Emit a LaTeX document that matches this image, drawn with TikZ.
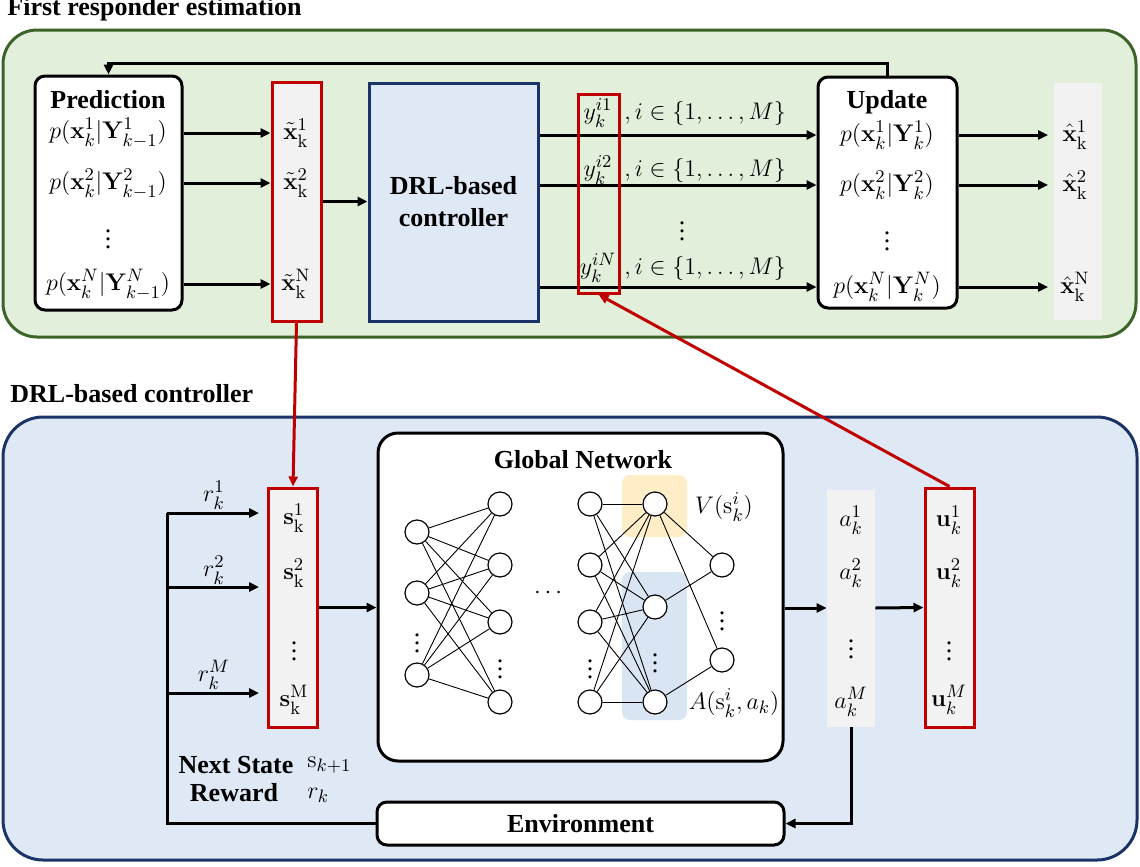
\documentclass[tikz,border=0pt]{standalone}
\usepackage[no-math]{fontspec}
\setmainfont{Liberation Serif}
\usepackage{amsmath,amssymb}
\usetikzlibrary{arrows.meta, positioning, calc}

\definecolor{grnframe}{HTML}{3C6428}
\definecolor{grnfill}{HTML}{E2EFDA}
\definecolor{navy}{HTML}{1B3468}
\definecolor{drlblue}{HTML}{DEE9F5}
\definecolor{drlred}{HTML}{C00000}
\definecolor{colgray}{HTML}{F2F2F2}
\definecolor{vfill}{HTML}{FEEDC6}
\definecolor{afill}{HTML}{D9E5F3}
\newcommand{\figfont}{\fontsize{13}{16}\selectfont}

\begin{document}
\begin{tikzpicture}[
    x=0.5pt, y=-0.5pt,
    every node/.style={font=\figfont, inner sep=1pt},
    bold/.style={font=\figfont\bfseries},
    blk/.style={draw, line width=1.5pt, rounded corners=5pt, fill=white},
    redcol/.style={draw=drlred, line width=1.5pt, fill=colgray, minimum width=24.5pt, minimum height=119.5pt},
    graycol/.style={fill=colgray, minimum width=24pt, minimum height=118.5pt},
    arr/.style={-{Triangle[length=5pt, width=4.5pt]}, line width=1.5pt},
    redarr/.style={arr, draw=drlred, fill=drlred},
    neuron/.style={circle, draw, line width=0.6pt, fill=white, minimum size=12pt, inner sep=0pt},
    lnk/.style={line width=0.45pt}
  ]
  \useasboundingbox (0,0) rectangle (1140,867);

  % first responder estimation
  \draw[draw=grnframe, fill=grnfill, line width=1.5pt, rounded corners=17pt] (3,30) rectangle (1136,337);
  \node[bold, anchor=base west] (ttl1) at (5,16) {First responder estimation};

  \node[blk, minimum width=73.5pt, minimum height=117pt] (pred) at (108.5,193) {};
  \node[bold] (predT) at (108,100) {Prediction};
  \node (p1) at (108,133) {$p(\mathbf{x}_k^1|\mathbf{Y}_{k-1}^1)$};
  \node (p2) at (108,184) {$p(\mathbf{x}_k^2|\mathbf{Y}_{k-1}^2)$};
  \node (pd) at (108,233) {$\vdots$};
  \node (pN) at (108,285) {$p(\mathbf{x}_k^N|\mathbf{Y}_{k-1}^N)$};

  \node[redcol] (xt) at (296.5,201.5) {};
  \node (xt1) at (296,133) {$\tilde{\mathbf{x}}_\mathrm{k}^1$};
  \node (xt2) at (296,183) {$\tilde{\mathbf{x}}_\mathrm{k}^2$};
  \node (xtN) at (296,284) {$\tilde{\mathbf{x}}_\mathrm{k}^\mathrm{N}$};

  \draw[arr] (pred.east |- xt1) -- (xt.west |- xt1);
  \draw[arr] (pred.east |- xt2) -- (xt.west |- xt2);
  \draw[arr] (pred.east |- xtN) -- (xt.west |- xtN);

  \node[draw=navy, fill=drlblue, line width=1.5pt, minimum width=84.5pt, minimum height=119pt,
        align=center, bold] (drl) at (453.5,202) {DRL-based\\controller};
  \draw[arr] (xt.east) -- (drl.west |- xt.east);

  \node[blk, minimum width=69.5pt, minimum height=115.5pt] (upd) at (887.5,192.5) {};
  \node[bold] (updT) at (887,102) {Update};
  \node (u1) at (887,135) {$p(\mathbf{x}_k^1|\mathbf{Y}_k^1)$};
  \node (u2) at (887,185) {$p(\mathbf{x}_k^2|\mathbf{Y}_k^2)$};
  \node (ud) at (887,235) {$\vdots$};
  \node (uN) at (887,287) {$p(\mathbf{x}_k^N|\mathbf{Y}_k^N)$};

  \draw[arr] (drl.east |- u1) -- (upd.west |- u1);
  \draw[arr] (drl.east |- u2) -- (upd.west |- u2);
  \draw[arr] (drl.east |- uN) -- (upd.west |- uN);

  \node[draw=drlred, line width=1.5pt, minimum width=20.5pt, minimum height=99.5pt] (ycol) at (598.5,193.5) {};
  \node (y1) at (598,113) {$y_k^{i1}$};
  \node (y2) at (598,170) {$y_k^{i2}$};
  \node (yN) at (598,268) {$y_k^{iN}$};
  \node[anchor=west] (set1) at (622,113) {$,i\in\{1,\dots,M\}$};
  \node[anchor=west] (set2) at (622,170) {$,i\in\{1,\dots,M\}$};
  \node[anchor=west] (setN) at (622,268) {$,i\in\{1,\dots,M\}$};
  \node (yd) at (682,225) {$\vdots$};

  \node[graycol] (xh) at (1077.5,201.5) {};
  \node (xh1) at (1075,135) {$\hat{\mathbf{x}}_\mathrm{k}^1$};
  \node (xh2) at (1075,185) {$\hat{\mathbf{x}}_\mathrm{k}^2$};
  \node (xhN) at (1075,287) {$\hat{\mathbf{x}}_\mathrm{k}^\mathrm{N}$};

  \draw[arr, shorten >=2.5pt] (upd.east |- u1) -- (xh.west |- u1);
  \draw[arr, shorten >=2.5pt] (upd.east |- u2) -- (xh.west |- u2);
  \draw[arr, shorten >=2.5pt] (upd.east |- uN) -- (xh.west |- uN);

  \draw[arr] (upd.north) -- ++(0,-12) -| (pred.north);

  % DRL-based controller
  \node[bold, anchor=base west] (ttl2) at (8,402) {DRL-based controller};
  \draw[draw=navy, fill=drlblue, line width=1.5pt, rounded corners=20pt] (3,417) rectangle (1137,860);

  \node[redcol] (scol) at (293,607.5) {};
  \node (s1) at (294,518) {$\mathbf{s}_\mathrm{k}^1$};
  \node (s2) at (294,573) {$\mathbf{s}_\mathrm{k}^2$};
  \node (sd) at (294,645) {$\vdots$};
  \node (sM) at (294,700) {$\mathbf{s}_\mathrm{k}^\mathrm{M}$};

  \node[blk, rounded corners=10pt, minimum width=202.5pt, minimum height=164pt] (glob) at (580.5,597) {};
  \node[bold] (globT) at (583,460) {Global Network};

  \fill[vfill, rounded corners=4pt] (622,475) rectangle (687,537);
  \fill[afill, rounded corners=4pt] (622,572) rectangle (687,720);

  \node[neuron] (a1) at (417,532) {};
  \node[neuron] (a2) at (417,593) {};
  \node[neuron] (a3) at (417,675) {};
  \node (ad) at (417,637) {$\vdots$};
  \node[neuron] (b1) at (500,504) {};
  \node[neuron] (b2) at (500,565) {};
  \node[neuron] (b3) at (500,622) {};
  \node[neuron] (b4) at (500,702) {};
  \node (bd) at (500,663) {$\vdots$};
  \node (hd) at (550,593) {$\cdots$};
  \node[neuron] (c1) at (590,504) {};
  \node[neuron] (c2) at (590,565) {};
  \node[neuron] (c3) at (590,622) {};
  \node[neuron] (c4) at (590,702) {};
  \node (cd) at (590,663) {$\vdots$};
  \node[neuron] (v) at (655,504) {};
  \node[neuron] (d1) at (655,607) {};
  \node[neuron] (d2) at (655,702) {};
  \node (dd) at (655,657) {$\vdots$};
  \node[neuron] (e1) at (722,565) {};
  \node[neuron] (e2) at (722,660) {};
  \node (ed) at (722,615) {$\vdots$};

  \foreach \i in {a1,a2,a3}
    \foreach \j in {b1,b2,b3,b4}
      \draw[lnk] (\i) -- (\j);
  \foreach \i in {c1,c2,c3,c4}
    \foreach \j in {v,d1,d2}
      \draw[lnk] (\i) -- (\j);
  \draw[lnk] (v) -- (e1) (v) -- (e2) (d1) -- (e1) (d2) -- (e2);

  \node (vlbl) at (724,507) {$V(\mathrm{s}_k^i)$};
  \node (albl) at (734,703) {$A(\mathrm{s}_k^i,a_k)$};

  \node[graycol] (acol) at (851,608) {};
  \node (ac1) at (851,520) {$a_k^1$};
  \node (ac2) at (851,573) {$a_k^2$};
  \node (acd) at (851,643) {$\vdots$};
  \node (acM) at (851,702) {$a_k^M$};

  \node[redcol] (ucol) at (949.5,607.5) {};
  \node (uc1) at (949,520) {$\mathbf{u}_k^1$};
  \node (uc2) at (949,573) {$\mathbf{u}_k^2$};
  \node (ucd) at (949,645) {$\vdots$};
  \node (ucM) at (949,700) {$\mathbf{u}_k^M$};

  \node[blk, minimum width=203.5pt, minimum height=21.5pt, bold] (env) at (580.5,823.5) {Environment};

  \draw[arr] (scol.east) -- (glob.west |- scol.east);
  \draw[arr] (glob.east |- acol.west) -- (acol.west);
  \draw[arr] (acol.east) -- (ucol.west);
  \draw[arr] (acol.south) |- (env.east);

  % reward / next state feedback
  \coordinate (r1) at (167,513);
  \coordinate (r2) at (167,587);
  \coordinate (rM) at (167,693);
  \draw[line width=1.5pt] (env.west) -| (r1);
  \draw[arr, shorten >=4pt] (r1) -- (scol.west |- r1);
  \draw[arr, shorten >=4pt] (r2) -- (scol.west |- r2);
  \draw[arr, shorten >=4pt] (rM) -- (scol.west |- rM);
  \node (rl1) at (214,495) {$r_k^1$};
  \node (rl2) at (214,570) {$r_k^2$};
  \node (rlM) at (214,675) {$r_k^M$};

  \node[bold] (nxt) at (236,765) {Next State};
  \node[bold] (rew) at (234,793) {Reward};
  \node[anchor=west] (snx) at (305,765) {$\mathrm{s}_{k+1}$};
  \node[anchor=west] (rk) at (305,795) {$r_k$};

  \draw[redarr] (xt.south) -- (scol.north);
  \draw[redarr] (ucol.north) -- (ycol.south);
\end{tikzpicture}
\end{document}
